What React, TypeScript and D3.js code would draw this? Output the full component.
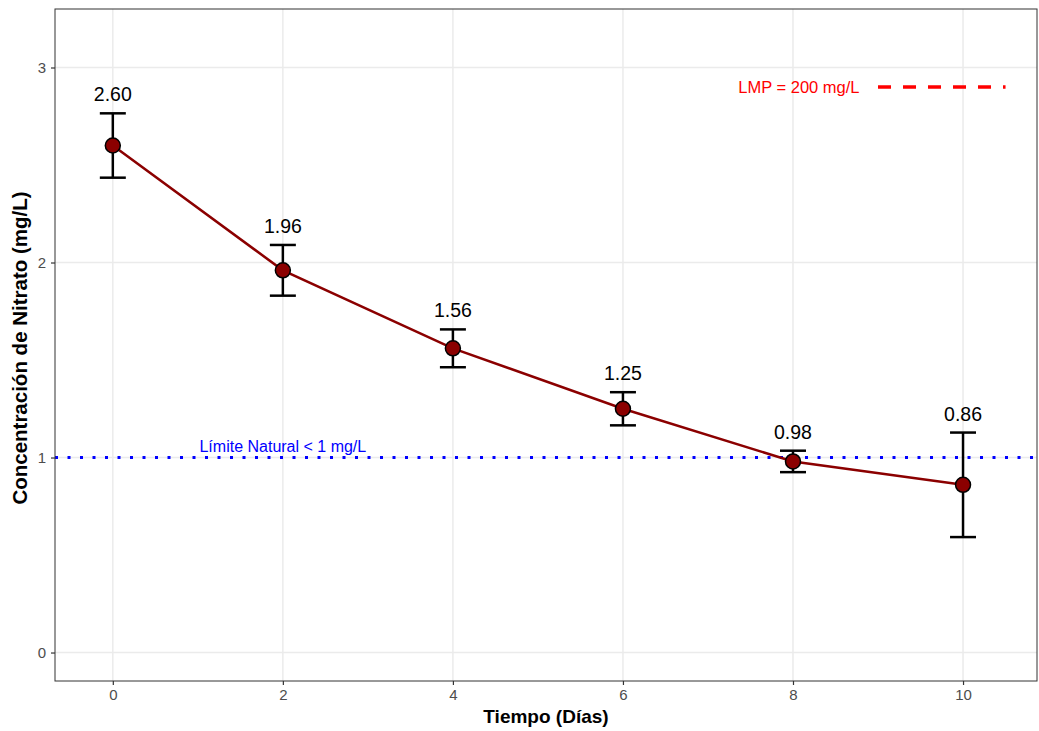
import React, { useEffect, useRef } from 'react';
import * as d3 from 'd3';

const dias = [0, 2, 4, 6, 8, 10];
const nitrato = [2.6, 1.96, 1.56, 1.25, 0.98, 0.86];
const desv = [0.165, 0.13, 0.097, 0.085, 0.055, 0.268];
const xTicks = [0, 2, 4, 6, 8, 10];
const yTicks = [0, 1, 2, 3];

const limiteNatural = 1;
const lmpTramo = [9, 10.5];
const lmpY = 2.9;

const App = () => {
  const ref = useRef<SVGSVGElement>(null);

  useEffect(() => {
    const svg = d3.select(ref.current);
    svg.selectAll('*').remove();

    const W = 1039, H = 731;
    const margin = { top: 9, right: 2, bottom: 50, left: 55 };
    const font = 'Liberation Sans, Arial, sans-serif';

    const x = d3.scaleLinear().domain([-0.68, 10.87]).range([margin.left, W - margin.right]);
    const y = d3.scaleLinear().domain([-0.146, 3.3]).range([H - margin.bottom, margin.top]);

    const g = svg.append('g');

    // gridlines
    g.selectAll('.gx').data(xTicks).enter().append('line')
      .attr('x1', d => x(d)).attr('x2', d => x(d))
      .attr('y1', margin.top).attr('y2', H - margin.bottom)
      .attr('stroke', '#ebebeb').attr('stroke-width', 1.5);
    g.selectAll('.gy').data(yTicks).enter().append('line')
      .attr('x1', margin.left).attr('x2', W - margin.right)
      .attr('y1', d => y(d)).attr('y2', d => y(d))
      .attr('stroke', '#ebebeb').attr('stroke-width', 1.5);

    // limite natural
    g.append('line')
      .attr('x1', margin.left).attr('x2', W - margin.right)
      .attr('y1', y(limiteNatural)).attr('y2', y(limiteNatural))
      .attr('stroke', 'blue').attr('stroke-width', 3)
      .attr('stroke-dasharray', '3,9.5');
    g.append('text')
      .attr('x', x(2)).attr('y', y(limiteNatural) - 6)
      .attr('text-anchor', 'middle')
      .attr('font-family', font).attr('font-size', 16)
      .attr('fill', 'blue')
      .text('Límite Natural < 1 mg/L');

    // LMP
    g.append('line')
      .attr('x1', x(lmpTramo[0])).attr('x2', x(lmpTramo[1]))
      .attr('y1', y(lmpY)).attr('y2', y(lmpY))
      .attr('stroke', 'red').attr('stroke-width', 3.5)
      .attr('stroke-dasharray', '13,12');
    g.append('text')
      .attr('x', x(8.07)).attr('y', y(lmpY)).attr('dy', '0.35em')
      .attr('text-anchor', 'middle')
      .attr('font-family', font).attr('font-size', 16.5)
      .attr('fill', 'red')
      .text('LMP = 200 mg/L');

    const datos = dias.map((d, i) => ({ d, v: nitrato[i], s: desv[i] }));

    // linea
    const linea = d3.line<{ d: number; v: number }>().x(p => x(p.d)).y(p => y(p.v));
    g.append('path').datum(datos)
      .attr('d', linea)
      .attr('fill', 'none').attr('stroke', '#8B0000').attr('stroke-width', 2.5);

    // barras de error
    const cap = 13;
    const eb = g.selectAll('.eb').data(datos).enter().append('g');
    eb.append('line')
      .attr('x1', p => x(p.d)).attr('x2', p => x(p.d))
      .attr('y1', p => y(p.v - p.s)).attr('y2', p => y(p.v + p.s))
      .attr('stroke', 'black').attr('stroke-width', 2.5);
    eb.append('line')
      .attr('x1', p => x(p.d) - cap).attr('x2', p => x(p.d) + cap)
      .attr('y1', p => y(p.v + p.s)).attr('y2', p => y(p.v + p.s))
      .attr('stroke', 'black').attr('stroke-width', 2.5);
    eb.append('line')
      .attr('x1', p => x(p.d) - cap).attr('x2', p => x(p.d) + cap)
      .attr('y1', p => y(p.v - p.s)).attr('y2', p => y(p.v - p.s))
      .attr('stroke', 'black').attr('stroke-width', 2.5);

    // puntos
    g.selectAll('.pt').data(datos).enter().append('circle')
      .attr('cx', p => x(p.d)).attr('cy', p => y(p.v))
      .attr('r', 7.5)
      .attr('fill', '#8B0000').attr('stroke', 'black').attr('stroke-width', 1.5);

    // etiquetas
    g.selectAll('.lb').data(datos).enter().append('text')
      .attr('x', p => x(p.d)).attr('y', p => y(p.v + p.s) - 12)
      .attr('text-anchor', 'middle')
      .attr('font-family', font).attr('font-size', 19.5)
      .attr('fill', 'black')
      .text(p => p.v.toFixed(2));

    // borde
    g.append('rect')
      .attr('x', margin.left).attr('y', margin.top)
      .attr('width', W - margin.right - margin.left)
      .attr('height', H - margin.bottom - margin.top)
      .attr('fill', 'none').attr('stroke', '#333').attr('stroke-width', 1);

    // ejes
    const ax = g.append('g')
      .attr('transform', `translate(0,${H - margin.bottom})`)
      .call(d3.axisBottom(x).tickValues(xTicks).tickSize(4).tickPadding(4).tickFormat(d3.format('d')));
    const ay = g.append('g')
      .attr('transform', `translate(${margin.left},0)`)
      .call(d3.axisLeft(y).tickValues(yTicks).tickSize(4).tickPadding(5).tickFormat(d3.format('d')));
    [ax, ay].forEach(a => {
      a.select('.domain').remove();
      a.attr('font-size', null).attr('font-family', null);
      a.selectAll('line').attr('stroke', '#333').attr('stroke-width', 1.2);
      a.selectAll('text')
        .attr('fill', '#4d4d4d')
        .style('font-size', '15px')
        .style('font-family', font);
    });

    // titulos
    g.append('text')
      .attr('x', (margin.left + W - margin.right) / 2).attr('y', 723)
      .attr('text-anchor', 'middle')
      .attr('font-family', font).attr('font-size', 19).attr('font-weight', 'bold')
      .text('Tiempo (Días)');
    g.append('text')
      .attr('transform', `translate(27,348) rotate(-90)`)
      .attr('text-anchor', 'middle')
      .attr('font-family', font).attr('font-size', 20.5).attr('font-weight', 'bold')
      .text('Concentración de Nitrato (mg/L)');
  }, []);

  return (
    <svg ref={ref} width={1039} height={731}
      style={{ position: 'absolute', left: 0, top: 0, background: 'white' }} />
  );
};

export default App;
